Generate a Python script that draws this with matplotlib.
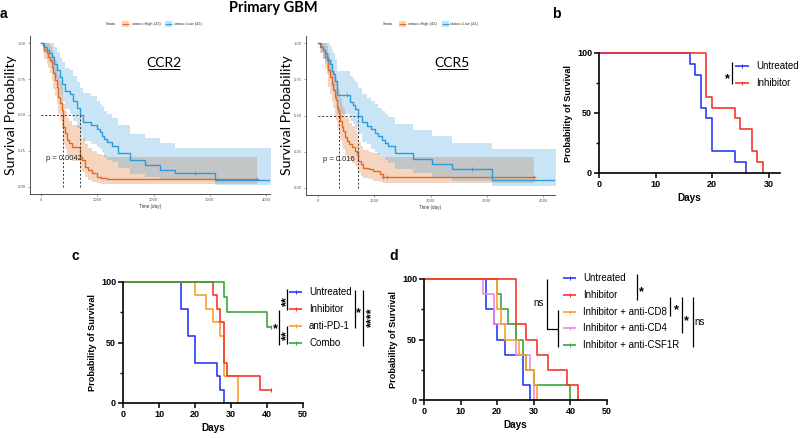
import matplotlib
matplotlib.use('Agg')
import matplotlib.pyplot as plt
from matplotlib.ticker import MultipleLocator
import numpy as np

W, H = 800, 438
fig = plt.figure(figsize=(8, 4.38), dpi=100)
ARIAL = ['Liberation Sans', 'DejaVu Sans']
CAL = ['Lato', 'DejaVu Sans']

# ---------------- Panel a data (Kaplan-Meier, TCGA primary GBM) ----------------
ccr2_high_t = [0, 30, 60, 100, 130, 160, 190, 220, 250, 280, 310, 340, 370, 385, 395, 420, 456, 500, 545, 693,
               720, 781, 840, 900, 989, 1070, 1167, 3836]
ccr2_high_s = [1.0, 0.977, 0.953, 0.93, 0.907, 0.884, 0.837, 0.791, 0.744, 0.698, 0.628, 0.581, 0.535, 0.488, 0.419,
               0.372, 0.326, 0.302, 0.279, 0.209, 0.186, 0.14, 0.116, 0.093, 0.07, 0.06, 0.056, 0.056]
ccr2_high_u = [1.0, 1.0, 1.0, 1.0, 1.0, 0.98, 0.95, 0.92, 0.88, 0.84, 0.78, 0.74, 0.70, 0.66, 0.58, 0.53, 0.48, 0.46,
               0.43, 0.36, 0.34, 0.30, 0.27, 0.25, 0.23, 0.22, 0.21, 0.21]
ccr2_high_l = [1.0, 0.93, 0.89, 0.86, 0.83, 0.79, 0.74, 0.68, 0.63, 0.58, 0.51, 0.46, 0.41, 0.37, 0.30, 0.26, 0.22, 0.20,
               0.18, 0.12, 0.10, 0.07, 0.05, 0.035, 0.025, 0.02, 0.02, 0.02]
ccr2_low_t = [0, 60, 101, 140, 190, 230, 278, 337, 380, 426, 515, 574, 633, 693, 751, 883, 989, 1050, 1078, 1120,
              1167, 1256, 1373, 1581, 1847, 2114, 2380, 3090, 4250]
ccr2_low_s = [1.0, 0.976, 0.952, 0.929, 0.905, 0.857, 0.81, 0.762, 0.714, 0.667, 0.643, 0.595, 0.548, 0.5, 0.452,
              0.429, 0.405, 0.381, 0.357, 0.333, 0.31, 0.286, 0.238, 0.19, 0.155, 0.12, 0.095, 0.05, 0.05]
ccr2_low_u = [1.0, 1.0, 1.0, 1.0, 1.0, 0.97, 0.94, 0.90, 0.87, 0.83, 0.81, 0.77, 0.73, 0.69, 0.65, 0.63, 0.60, 0.58,
              0.56, 0.53, 0.51, 0.48, 0.43, 0.37, 0.34, 0.305, 0.27, 0.27, 0.27]
ccr2_low_l = [1.0, 0.93, 0.89, 0.86, 0.82, 0.76, 0.70, 0.64, 0.59, 0.54, 0.51, 0.46, 0.41, 0.36, 0.32, 0.30, 0.28, 0.26,
              0.24, 0.21, 0.19, 0.17, 0.13, 0.09, 0.07, 0.05, 0.045, 0.01, 0.01]
ccr2_medians = [385, 693]
ccr2_cens_high = [3836]
ccr2_cens_low = [2730]
ccr2_p = 'p = 0.0042'

ccr5_high_t = [0, 40, 95, 125, 154, 185, 213, 245, 272, 300, 320, 340, 361, 380, 390, 420, 450, 480, 509, 550, 598,
               650, 687, 716, 760, 805, 900, 983, 1101, 1160, 3836]
ccr5_high_s = [1.0, 0.977, 0.953, 0.907, 0.884, 0.814, 0.767, 0.721, 0.674, 0.628, 0.605, 0.558, 0.535, 0.512, 0.465,
               0.419, 0.395, 0.349, 0.326, 0.302, 0.279, 0.256, 0.233, 0.186, 0.163, 0.14, 0.128, 0.116, 0.093, 0.075,
               0.075]
ccr5_high_u = [1.0, 1.0, 1.0, 1.0, 0.98, 0.93, 0.89, 0.85, 0.81, 0.77, 0.75, 0.71, 0.69, 0.67, 0.62, 0.57, 0.55, 0.50,
               0.48, 0.45, 0.43, 0.40, 0.37, 0.32, 0.29, 0.26, 0.25, 0.24, 0.22, 0.21, 0.21]
ccr5_high_l = [1.0, 0.93, 0.89, 0.82, 0.79, 0.70, 0.65, 0.60, 0.55, 0.50, 0.47, 0.43, 0.40, 0.38, 0.33, 0.29, 0.27, 0.23,
               0.21, 0.19, 0.17, 0.15, 0.13, 0.10, 0.08, 0.07, 0.06, 0.05, 0.04, 0.03, 0.03]
ccr5_low_t = [0, 60, 95, 125, 154, 185, 213, 245, 272, 300, 331, 343, 568, 620, 657, 716, 775, 864, 940, 1012, 1070,
              1130, 1190, 1249, 1367, 1693, 2019, 2374, 3084, 4250]
ccr5_low_s = [1.0, 0.976, 0.952, 0.929, 0.905, 0.881, 0.857, 0.81, 0.786, 0.738, 0.69, 0.643, 0.595, 0.571, 0.548, 0.5,
              0.452, 0.429, 0.405, 0.381, 0.357, 0.333, 0.31, 0.286, 0.238, 0.2, 0.165, 0.13, 0.055, 0.055]
ccr5_low_u = [1.0, 1.0, 1.0, 1.0, 1.0, 1.0, 0.98, 0.95, 0.93, 0.89, 0.85, 0.81, 0.77, 0.75, 0.73, 0.69, 0.65, 0.62,
              0.60, 0.58, 0.55, 0.53, 0.51, 0.49, 0.44, 0.40, 0.36, 0.31, 0.27, 0.27]
ccr5_low_l = [1.0, 0.93, 0.89, 0.86, 0.82, 0.79, 0.76, 0.70, 0.67, 0.61, 0.56, 0.51, 0.46, 0.44, 0.41, 0.37, 0.32, 0.30,
              0.27, 0.25, 0.23, 0.21, 0.19, 0.17, 0.13, 0.10, 0.07, 0.05, 0.01, 0.01]
ccr5_medians = [380, 716]
ccr5_cens_high = [1160, 1220, 3836]
ccr5_cens_low = [521, 2729]
ccr5_p = 'p = 0.016'

strata_labels = ['status=High (43)', 'status=Low (42)']

# ---------------- Panel b data ----------------
b_groups = ['Untreated', 'Inhibitor']
b_untreated_days = [0, 16, 17, 18, 19, 20, 24, 26]
b_untreated_surv = [100, 90.9, 81.8, 54.5, 45.5, 18.2, 9.1, 0]
b_inhibitor_days = [0, 19, 20, 24, 25, 27, 28, 29]
b_inhibitor_surv = [100, 63.6, 54.5, 45.5, 36.4, 18.2, 9.1, 0]

# ---------------- Panel c data ----------------
c_groups = ['Untreated', 'Inhibitor', 'anti-PD-1', 'Combo']
c_untreated_days = [0, 16, 18, 20, 26, 27, 28]
c_untreated_surv = [100, 77.8, 55.6, 33.3, 22.2, 11.1, 0]
c_inhibitor_days = [0, 25, 26, 27, 28, 29, 38, 41]
c_inhibitor_surv = [100, 88.9, 77.8, 66.7, 33.3, 22.2, 11.1, 11.1]
c_pd1_days = [0, 20, 23, 25, 27, 28, 32]
c_pd1_surv = [100, 88.9, 77.8, 66.7, 55.6, 22.2, 0]
c_combo_days = [0, 28, 29, 40, 41]
c_combo_surv = [100, 87.5, 75, 62.5, 62.5]

# ---------------- Panel d data ----------------
d_groups = ['Untreated', 'Inhibitor', 'Inhibitor + anti-CD8', 'Inhibitor + anti-CD4', 'Inhibitor + anti-CSF1R']
d_untreated_days = [0, 17, 19, 20, 22, 27, 29]
d_untreated_surv = [100, 75, 62.5, 50, 37.5, 12.5, 0]
d_inhibitor_days = [0, 25, 28, 31, 34, 39, 42]
d_inhibitor_surv = [100, 62.5, 50, 37.5, 25, 12.5, 0]
d_cd8_days = [0, 20, 21, 22, 26, 28, 30, 31]
d_cd8_surv = [100, 75, 62.5, 50, 37.5, 25, 12.5, 0]
d_cd4_days = [0, 16, 19, 25, 29, 30]
d_cd4_surv = [100, 87.5, 62.5, 37.5, 25, 0]
d_csf1r_days = [0, 20, 21, 23, 25, 27, 28, 30, 40]
d_csf1r_surv = [100, 87.5, 75, 62.5, 50, 37.5, 25, 12.5, 0]

OR = '#E2691F'
BL = '#2F9BDB'
GP_BLUE = '#2A3CF5'
GP_RED = '#F5372E'
GP_ORANGE = '#F9A12E'
GP_GREEN = '#3AA53A'
GP_PINK = '#EE86EE'


def px_axes(l, t, r, b, **kw):
    return fig.add_axes([l / W, 1 - b / H, (r - l) / W, (b - t) / H], **kw)


# ---------------- Panel a ----------------
def km_panel(ax, hi, lo, med, cens_hi, cens_lo, ptxt, xlim):
    (th, sh, uh, lh), (tl, sl, ul, ll) = hi, lo
    ax.fill_between(th, lh, uh, step='post', color=OR, alpha=0.28, lw=0)
    ax.fill_between(tl, ll, ul, step='post', color=BL, alpha=0.26, lw=0)
    ax.step(th, sh, where='post', color=OR, lw=1.0)
    ax.step(tl, sl, where='post', color=BL, lw=1.0)
    for cs, t, s, c in ((cens_hi, th, sh, OR), (cens_lo, tl, sl, BL)):
        for x in cs:
            idx = np.searchsorted(t, x, side='right') - 1
            ax.plot([x], [s[idx]], marker='+', color=c, ms=2.5, mew=0.6)
    ax.plot([0, med[1]], [0.5, 0.5], ls=(0, (2, 2)), color='#333333', lw=0.7)
    for m in med:
        ax.plot([m, m], [0, 0.5], ls=(0, (2, 2)), color='#333333', lw=0.7)
    ax.text(85, 0.195, ptxt, fontsize=5.4, family=ARIAL, va='center', ha='left', color='#222222')
    ax.set_xlim(*xlim)
    ax.set_ylim(-0.05, 1.05)
    ax.set_xticks([0, 1000, 2000, 3000, 4000])
    ax.set_yticks([0, 0.25, 0.5, 0.75, 1.0])
    ax.set_yticklabels(['0.00', '0.25', '0.50', '0.75', '1.00'])
    ax.tick_params(labelsize=2.6, length=1.5, width=0.4, colors='#555555', pad=1.2)
    for s in ('top', 'right'):
        ax.spines[s].set_visible(False)
    for s in ('left', 'bottom'):
        ax.spines[s].set_linewidth(0.6)
        ax.spines[s].set_color('#333333')
    ax.set_facecolor('none')
    ax.set_xlabel('Time (day)', fontsize=3.3, family=ARIAL, labelpad=1.5, color='#333333')
    ax.set_ylabel('Survival Probability', fontsize=10.2, family=CAL, labelpad=1)


ax1 = px_axes(30, 36, 270, 194)
km_panel(ax1, (ccr2_high_t, ccr2_high_s, ccr2_high_u, ccr2_high_l),
         (ccr2_low_t, ccr2_low_s, ccr2_low_u, ccr2_low_l), ccr2_medians, ccr2_cens_high, ccr2_cens_low,
         ccr2_p, (-195, 4067))
ax1.text(2185, 0.86, 'CCR2', fontsize=10, family=CAL, ha='center', va='center')

ax2 = px_axes(306, 36, 555, 195)
km_panel(ax2, (ccr5_high_t, ccr5_high_s, ccr5_high_u, ccr5_high_l),
         (ccr5_low_t, ccr5_low_s, ccr5_low_u, ccr5_low_l), ccr5_medians, ccr5_cens_high, ccr5_cens_low,
         ccr5_p, (-213, 4210))
ax2.text(2389, 0.86, 'CCR5', fontsize=10, family=CAL, ha='center', va='center')


# ---------------- GraphPad style panels ----------------
def gp_axes(ax, xmax, xticks):
    for s in ('top', 'right'):
        ax.spines[s].set_visible(False)
    for s in ('left', 'bottom'):
        ax.spines[s].set_linewidth(1.2)
    ax.set_xlim(0, xmax)
    ax.set_ylim(0, 100)
    ax.set_xticks(xticks)
    ax.set_yticks([0, 50, 100])
    ax.yaxis.set_minor_locator(MultipleLocator(25))
    ax.tick_params(which='major', length=3.5, width=1.1, labelsize=6.5, pad=1.5)
    ax.tick_params(which='minor', length=2.2, width=1.0)
    for lab in ax.get_xticklabels() + ax.get_yticklabels():
        lab.set_fontweight('bold')
        lab.set_family(ARIAL)
    ax.set_xlabel('Days', fontsize=7.2, fontweight='bold', family=ARIAL, labelpad=3)
    ax.set_ylabel('Probability of Survival', fontsize=6.6, fontweight='bold', family=ARIAL, labelpad=3)
    ax.set_facecolor('none')


axb = px_axes(599, 53, 780, 173)
axb.step(b_untreated_days, b_untreated_surv, where='post', color=GP_BLUE, lw=1.2, clip_on=False)
axb.step(b_inhibitor_days, b_inhibitor_surv, where='post', color=GP_RED, lw=1.2, clip_on=False)
gp_axes(axb, 32, [0, 10, 20, 30])

axc = px_axes(123, 282, 303, 403)
axc.step(c_untreated_days, c_untreated_surv, where='post', color=GP_BLUE, lw=1.2, clip_on=False)
axc.step(c_pd1_days, c_pd1_surv, where='post', color=GP_ORANGE, lw=1.2, clip_on=False)
axc.step(c_inhibitor_days, c_inhibitor_surv, where='post', color=GP_RED, lw=1.2, clip_on=False)
axc.step(c_combo_days, c_combo_surv, where='post', color=GP_GREEN, lw=1.2, clip_on=False)
axc.plot([c_inhibitor_days[-1]], [c_inhibitor_surv[-1]], marker='|', ms=3, color=GP_RED, mew=0.8)
axc.plot([c_combo_days[-1]], [c_combo_surv[-1]], marker='|', ms=3, color=GP_GREEN, mew=0.8)
gp_axes(axc, 50, [0, 10, 20, 30, 40, 50])

axd = px_axes(424, 279, 607, 400)
axd.step(d_untreated_days, d_untreated_surv, where='post', color=GP_BLUE, lw=1.2, clip_on=False)
axd.step(d_cd4_days, d_cd4_surv, where='post', color=GP_PINK, lw=1.2, clip_on=False)
axd.step(d_csf1r_days, d_csf1r_surv, where='post', color=GP_GREEN, lw=1.2, clip_on=False)
axd.step(d_cd8_days, d_cd8_surv, where='post', color=GP_ORANGE, lw=1.2, clip_on=False)
axd.step(d_inhibitor_days, d_inhibitor_surv, where='post', color=GP_RED, lw=1.2, clip_on=False)
gp_axes(axd, 50, [0, 10, 20, 30, 40, 50])

# ---------------- overlay (legends, brackets, labels) in pixel coords ----------------
ov = fig.add_axes([0, 0, 1, 1], zorder=10)
ov.set_xlim(0, W)
ov.set_ylim(H, 0)
ov.axis('off')


def T(x, y, s, **kw):
    kw.setdefault('family', ARIAL)
    ov.text(x, y, s, **kw)


def L(xs, ys, **kw):
    kw.setdefault('color', 'black')
    kw.setdefault('lw', 0.9)
    ov.plot(xs, ys, solid_capstyle='butt', **kw)


def STAR(x, y, size=9):
    # star glyph sits ~0.58 em above the baseline; place its centre at (x, y)
    T(x, y + 0.58 * size * 100 / 72, '*', fontsize=size, fontweight='bold', ha='center', va='baseline')


def VSTARS(x, y, s, size=9):
    # rotated asterisks, centred on (x, y)
    T(x + 0.58 * size * 100 / 72, y, s, fontsize=size, fontweight='bold', rotation=90,
      rotation_mode='anchor', ha='center', va='baseline')


# Title and panel letters
T(273, 8, 'Primary GBM', fontsize=10.5, fontweight='bold', family=CAL, ha='center', va='center')
T(0, 14, 'a', fontsize=10, fontweight='bold', ha='left', va='center')
T(552, 14, 'b', fontsize=10, fontweight='bold', ha='left', va='center')
T(71, 256, 'c', fontsize=10, fontweight='bold', ha='left', va='center')
T(389, 256, 'd', fontsize=10, fontweight='bold', ha='left', va='center')

# CCR underlines
L([148, 180], [69, 69], lw=0.7)
L([437, 468], [69, 69], lw=0.7)

# Panel a strata legends
for x_strata, x_k1, x_t1, x_k2, x_t2 in ((106, 122, 132, 165, 174), (383, 399, 408, 442, 450)):
    T(x_strata, 24, 'Strata', fontsize=2.8, va='center', ha='left', color='#333333')
    ov.add_patch(plt.Rectangle((x_k1, 21), 7, 6, color=OR, alpha=0.3, lw=0))
    L([x_k1, x_k1 + 7], [24, 24], color=OR, lw=0.7)
    ov.plot([x_k1 + 3.5], [24], marker='+', color=OR, ms=2, mew=0.5)
    T(x_t1, 24, strata_labels[0], fontsize=2.8, va='center', ha='left', color='#333333')
    ov.add_patch(plt.Rectangle((x_k2, 21), 7, 6, color=BL, alpha=0.3, lw=0))
    L([x_k2, x_k2 + 7], [24, 24], color=BL, lw=0.7)
    ov.plot([x_k2 + 3.5], [24], marker='+', color=BL, ms=2, mew=0.5)
    T(x_t2, 24, strata_labels[1], fontsize=2.8, va='center', ha='left', color='#333333')


def gp_legend(x0, x1, xt, ys, labels, colors):
    for y, lab, c in zip(ys, labels, colors):
        L([x0, x1], [y, y], color=c, lw=1.2)
        ov.plot([(x0 + x1) / 2], [y - 0.5], marker='|', ms=2.2, color=c, mew=0.7)
        T(xt, y, lab, fontsize=7, va='center', ha='left')


# Panel b legend
gp_legend(735, 749, 756, [66, 83], b_groups, [GP_BLUE, GP_RED])
L([732, 732], [62, 84])
STAR(727, 75, 9)

# Panel c legend
gp_legend(289, 302, 309, [292, 309, 326, 343], c_groups, [GP_BLUE, GP_RED, GP_ORANGE, GP_GREEN])
L([287, 287], [289, 310])
VSTARS(283, 301, '**')
L([287, 287], [326, 344])
VSTARS(283, 335, '**')
L([279, 279], [310, 345])
STAR(275.5, 325, 9)
L([355, 355], [290, 328])
STAR(358.5, 309, 9)
L([363, 363], [290, 346])
VSTARS(367.5, 317, '****')

# Panel d legend
gp_legend(563, 576, 583, [278, 295, 312, 328, 345], d_groups,
          [GP_BLUE, GP_RED, GP_ORANGE, GP_PINK, GP_GREEN])
L([547, 547, 558], [279, 329, 329])
L([558, 558], [310, 347])
T(539, 303, 'ns', fontsize=7, ha='center', va='center')
L([637, 637], [274, 300])
STAR(641, 288, 9)
L([670, 670], [297, 316])
STAR(676, 306, 9)
L([682, 682], [297, 333])
STAR(686, 317, 9)
L([693, 693], [297, 347])
T(700, 322, 'ns', fontsize=7, ha='center', va='center')

fig.savefig('out.png', dpi=100)
